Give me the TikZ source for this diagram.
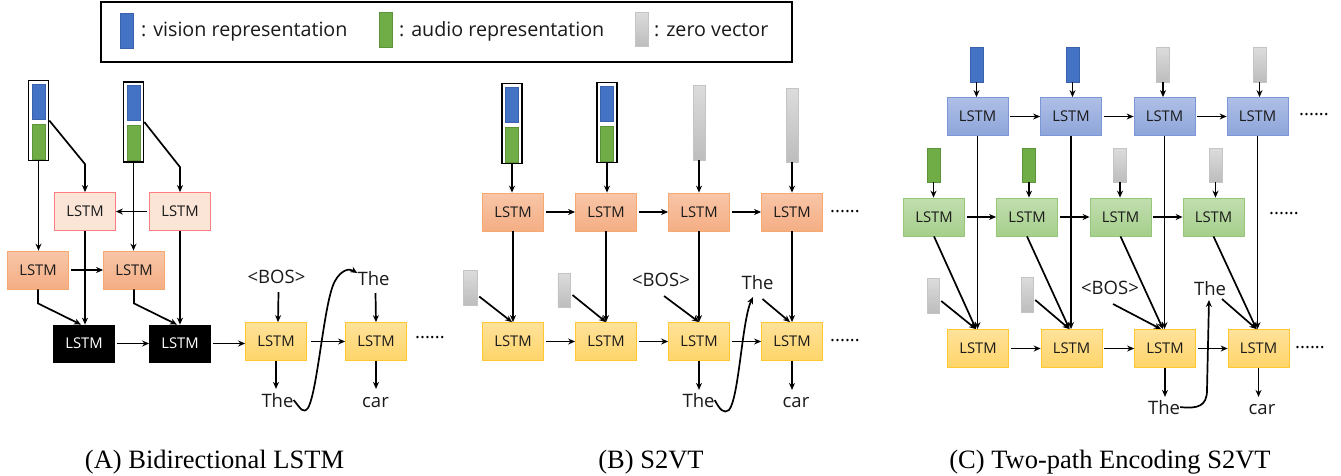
\documentclass[tikz,border=0pt]{standalone}
\usepackage{fontspec}
\setmainfont{Open Sans}
\newfontfamily\capfont{Liberation Serif}
\usetikzlibrary{arrows.meta}
\definecolor{visC}{HTML}{4472C4}\definecolor{visD}{HTML}{3A62AA}
\definecolor{audC}{HTML}{70AD47}\definecolor{audD}{HTML}{5E9439}
\definecolor{zT}{HTML}{DCDCDC}\definecolor{zB}{HTML}{BDBDBD}\definecolor{zD}{HTML}{C4C4C4}
\definecolor{pinkF}{HTML}{FBE5D6}\definecolor{pinkD}{HTML}{FF7C80}
\definecolor{orgT}{HTML}{F8C6A8}\definecolor{orgB}{HTML}{F4AE84}\definecolor{orgD}{HTML}{F5A870}
\definecolor{ylwT}{HTML}{FFE29A}\definecolor{ylwB}{HTML}{FFD56A}\definecolor{ylwD}{HTML}{FFC833}
\definecolor{bluT}{HTML}{AFBFE6}\definecolor{bluB}{HTML}{8DA5DA}\definecolor{bluD}{HTML}{7C97D6}
\definecolor{grnT}{HTML}{C2DEB0}\definecolor{grnB}{HTML}{A5CF8B}\definecolor{grnD}{HTML}{96C67A}
\definecolor{txt}{HTML}{1A1A1A}
\tikzset{
  lstm/.style={draw, minimum width=61pt, minimum height=38pt, inner sep=0pt, line width=0.8pt,
    font=\fontsize{14.8}{16}\selectfont, text=txt},
  pinkb/.style={lstm, fill=pinkF, draw=pinkD},
  orgb/.style={lstm, top color=orgT, bottom color=orgB, draw=orgD},
  ylwb/.style={lstm, top color=ylwT, bottom color=ylwB, draw=ylwD},
  blkb/.style={lstm, fill=black, draw=black, text=white},
  blub/.style={lstm, top color=bluT, bottom color=bluB, draw=bluD},
  grnb/.style={lstm, top color=grnT, bottom color=grnB, draw=grnD},
  stackbox/.style={draw, line width=1.6pt, minimum width=20pt, minimum height=80pt, inner sep=0pt},
  vis/.style={fill=visC, draw=visD, line width=0.5pt, minimum width=13pt, minimum height=35pt, inner sep=0pt},
  aud/.style={fill=audC, draw=audD, line width=0.5pt, minimum width=13pt, minimum height=35pt, inner sep=0pt},
  zerov/.style={top color=zT, bottom color=zB, draw=zD, line width=0.5pt, minimum width=13pt, minimum height=35pt, inner sep=0pt},
  arr/.style={-{Stealth[length=7pt,width=6pt]}, line width=1.7pt},
  word/.style={font=\fontsize{18.5}{20}\selectfont, text=txt, inner sep=0pt, anchor=base},
  ellip/.style={font=\fontsize{18.5}{20}\selectfont, inner sep=0pt},
  legtext/.style={font=\fontsize{19.7}{22}\selectfont, text=txt, inner sep=0pt, anchor=base west},
  captext/.style={font=\capfont\fontsize{26.5}{28}\selectfont, inner sep=0pt, anchor=base}
}
\newcommand\mystack[3]{%
  \node[stackbox] (#1) at (#2,#3) {};
  \node[vis] (#1v) at (#2,#3-19) {};
  \node[aud] (#1a) at (#2,#3+21) {};}
\begin{document}
\begin{tikzpicture}[x=1pt,y=-1pt]
\useasboundingbox (0,0) rectangle (1341,475);
% legend
\node[draw, line width=2.6pt, minimum width=691pt, minimum height=60pt, inner sep=0pt] (legend) at (446.5,32) {};
\node[vis] (lv) at (126.5,30.5) {};
\node[aud] (la) at (385.5,29.5) {};
\node[zerov, minimum height=34pt] (lz) at (641.5,29) {};
\node[legtext] (lvt) at (141,36) {: vision representation};
\node[legtext] (lat) at (399,36) {: audio representation};
\node[legtext] (lzt) at (654,36) {: zero vector};

% ================= Panel A
\mystack{sA1}{38.5}{120.5}
\mystack{sA2}{133.5}{122}
\node[pinkb] (pA1) at (85,211.5) {LSTM};
\node[pinkb] (pA2) at (180,211.5) {LSTM};
\node[orgb] (oA1) at (38,270) {LSTM};
\node[orgb] (oA2) at (134,270) {LSTM};
\node[blkb, minimum height=37pt] (kA1) at (84,343.5) {LSTM};
\node[blkb, minimum height=37pt] (kA2) at (180,343.5) {LSTM};
\node[ylwb] (yA1) at (276,341.5) {LSTM};
\node[ylwb] (yA2) at (376,341.5) {LSTM};
\node[word] (bosA) at (276.5,283) {<BOS>};
\node[word] (tAt) at (373.5,285) {The};
\node[word] (tAb) at (277.5,407) {The};
\node[word] (carA) at (375.5,407) {car};
\node[ellip] (eA) at (430,338) {......};

\draw[arr] (sA1.south) -- (sA1.south |- oA1.north);
\draw[arr] (sA1.east) -- ([yshift=28pt]pA1.north) -- (pA1.north);
\draw[arr] (sA2.south) -- (sA2.south |- oA2.north);
\draw[arr] (sA2.east) -- ([yshift=25pt]pA2.north) -- (pA2.north);
\draw[arr, shorten <=2pt] (pA2.west) -- (pA1.east);
\draw[arr, shorten <=2pt] (oA1.east) -- (oA2.west);
\draw[arr] (pA1.south) -- (pA1.south |- kA1.north);
\draw[arr] (oA1.south) -- ++(0,14) -- ([xshift=-3pt]kA1.north);
\draw[arr] (pA2.south) -- (pA2.south |- kA2.north);
\draw[arr] (oA2.south) -- ++(0,14) -- ([xshift=-3pt]kA2.north);
\draw[arr, shorten <=2pt] (kA1.east) -- (kA2.west);
\draw[arr, shorten <=2pt] (kA2.east) -- (kA2.east -| yA1.west);
\draw[arr, shorten <=4pt] (yA1.east) -- (yA2.west);
\draw[arr] ([xshift=2pt,yshift=-9pt]bosA.base) -- ([xshift=2pt]yA1.north);
\draw[arr] ([xshift=2pt,yshift=-8pt]tAt.base) -- ([xshift=0pt]yA2.north);
\draw[arr] (yA1.south) -- ++(0,28);
\draw[arr] (yA2.south) -- ++(0,28);
\draw[arr] (tAb.east) .. controls (301,409) and (303,414) .. (308,408)
  .. controls (318,390) and (324,300) .. (335,281)
  .. controls (341,270) and (349,268) .. ([yshift=5pt]tAt.west);

% ================= Panel B
\mystack{sB1}{512}{123.5}
\mystack{sB2}{607}{122.5}
\node[zerov, minimum width=12pt, minimum height=75pt] (zB3) at (699,122.5) {};
\node[zerov, minimum width=12pt, minimum height=74pt] (zB4) at (792,125) {};
\foreach \i/\x in {1/513,2/606,3/699,4/792}{
  \node[orgb] (oB\i) at (\x,212) {LSTM};
  \node[ylwb] (yB\i) at (\x,341.5) {LSTM};
}
\node[zerov, minimum width=14pt, minimum height=35pt] (zB1) at (470,287.5) {};
\node[zerov, minimum width=12.5pt, minimum height=34pt] (zB2) at (564,290) {};
\node[word] (bosB) at (661,286) {<BOS>};
\node[word] (tBt) at (757.5,289) {The};
\node[word] (tBb) at (698.5,407) {The};
\node[word] (carB) at (796,407) {car};
\node[ellip] (eB1) at (845,212) {......};
\node[ellip] (eB2) at (845,341) {......};
\coordinate (tipB) at (753,297);

\draw[arr] (sB1.south) -- (sB1.south |- oB1.north);
\draw[arr] (sB2.south) -- (sB2.south |- oB2.north);
\draw[arr] (zB3.south) -- (zB3.south |- oB3.north);
\draw[arr] (zB4.south) -- (zB4.south |- oB4.north);
\foreach \a/\b in {1/2,2/3,3/4}{
  \draw[arr, shorten <=2pt] (oB\a.east) -- (oB\b.west);
  \draw[arr, shorten <=2pt] (yB\a.east) -- (yB\b.west);
}
\foreach \i in {1,2,3,4}{
  \draw[arr] (oB\i.south) -- (yB\i.north);
}
\draw[arr] ([xshift=2pt,yshift=-9pt]zB1.east) -- ([xshift=-1pt]yB1.north);
\draw[arr] ([xshift=2pt,yshift=-5pt]zB2.east) -- ([xshift=0pt]yB2.north);
\draw[arr] ([xshift=3pt,yshift=-10pt]bosB.base) -- ([xshift=0pt]yB3.north);
\draw[arr] ([xshift=5pt,yshift=-10pt]tBt.base) -- ([xshift=-2pt]yB4.north);
\draw[arr] (yB3.south) -- ++(0,29);
\draw[arr] (yB4.south) -- ++(0,29);
\draw[arr] (tBb.east) .. controls (720,410) and (724,414) .. (729,410)
  .. controls (739,398) and (742,320) .. (tipB);

% ================= Panel C
\node[vis] (vC1) at (976.5,64.5) {};
\node[vis] (vC2) at (1072.5,64.5) {};
\node[zerov] (vC3) at (1163,64.5) {};
\node[zerov] (vC4) at (1259.5,64.5) {};
\foreach \i/\x in {1/977.5,2/1071,3/1164.5,4/1257.5}{
  \node[blub] (bC\i) at (\x,116.5) {LSTM};
}
\node[aud, minimum height=34pt] (aC1) at (933.5,165) {};
\node[aud, minimum height=34pt] (aC2) at (1029,165) {};
\node[zerov, minimum height=34pt] (aC3) at (1120,165) {};
\node[zerov, minimum height=34pt] (aC4) at (1215.5,165) {};
\foreach \i/\x in {1/934,2/1027,3/1120.5,4/1213.5}{
  \node[grnb] (gC\i) at (\x,217) {LSTM};
}
\node[zerov, minimum width=12pt] (zC1) at (933,295.5) {};
\node[zerov, minimum width=12pt] (zC2) at (1027,294.5) {};
\foreach \i/\x in {1/978,2/1071.5,3/1165,4/1258.5}{
  \node[ylwb] (yC\i) at (\x,348.5) {LSTM};
}
\node[word] (bosC) at (1110,294) {<BOS>};
\node[word] (tCt) at (1210,295) {The};
\node[word] (tCb) at (1164,414) {The};
\node[word] (carC) at (1262,414) {car};
\node[ellip] (eC1) at (1314,115) {......};
\node[ellip] (eC2) at (1284,214) {......};
\node[ellip] (eC3) at (1310,348) {......};
\coordinate (tipC) at (1209,300);

\foreach \i in {1,2,3,4}{
  \draw[arr] (vC\i.south) -- (vC\i.south |- bC\i.north);
  \draw[arr] (aC\i.south) -- (aC\i.south |- gC\i.north);
  \draw[arr] (bC\i.south) -- (bC\i.south |- yC\i.north);
  \draw[arr] (gC\i.south) -- ([xshift=-2pt]yC\i.north);
}
\foreach \a/\b in {1/2,2/3,3/4}{
  \draw[arr, shorten <=2pt] (bC\a.east) -- (bC\b.west);
  \draw[arr, shorten <=2pt] (gC\a.east) -- (gC\b.west);
  \draw[arr, shorten <=2pt] (yC\a.east) -- (yC\b.west);
}
\draw[arr] ([xshift=2pt,yshift=-5.5pt]zC1.east) -- ([xshift=-2pt]yC1.north);
\draw[arr] ([xshift=2pt,yshift=-5.5pt]zC2.east) -- ([xshift=-2pt]yC2.north);
\draw[arr] ([xshift=3pt,yshift=-10pt]bosC.base) -- ([xshift=-4pt]yC3.north);
\draw[arr] ([xshift=12pt,yshift=-4pt]tCt.base) -- ([xshift=-2pt]yC4.north);
\draw[arr] (yC3.south) -- ++(0,29);
\draw[arr] (yC4.south) -- ++(0,29);
\draw[arr] (tCb.east) .. controls (1198,409) and (1207,406) .. (1207,390) -- (tipC);

% captions
\node[captext] (capA) at (214.5,468) {(A) Bidirectional LSTM};
\node[captext] (capB) at (651,468) {(B) S2VT};
\node[captext] (capC) at (1110,468) {(C) Two-path Encoding S2VT};
\end{tikzpicture}
\end{document}
